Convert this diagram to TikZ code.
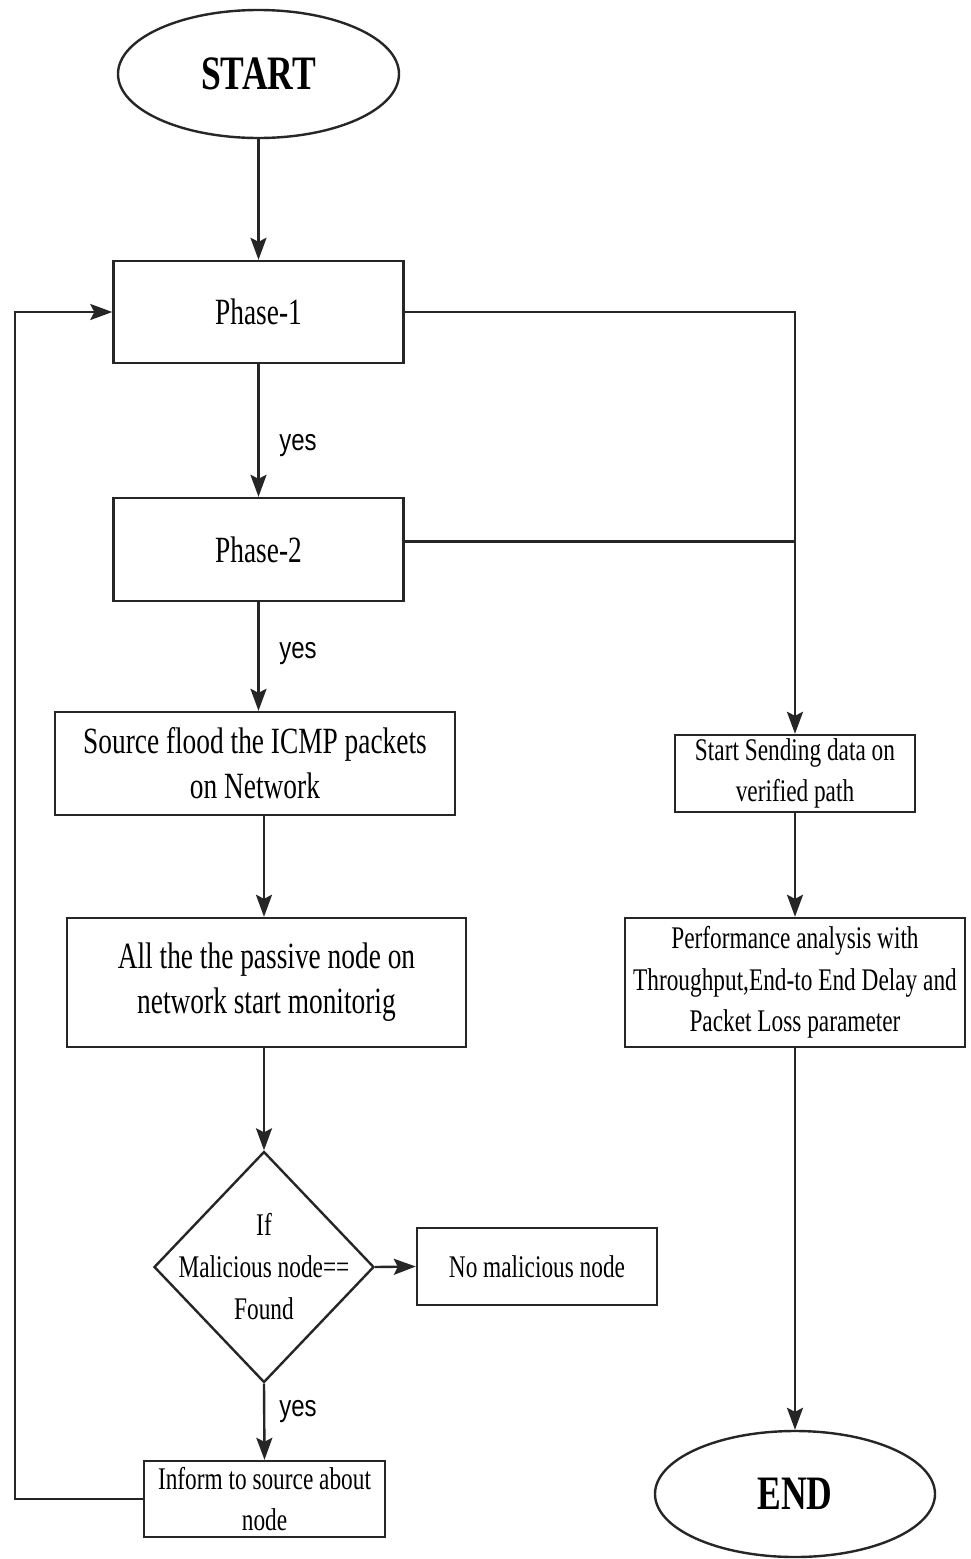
\documentclass[tikz,border=0pt]{standalone}
\usepackage{fontspec}
\setmainfont[FakeStretch=0.74]{Liberation Serif}
\newfontfamily\yesfont[FakeStretch=0.8]{Liberation Sans}
\usetikzlibrary{shapes.geometric,arrows.meta,calc}
\begin{document}
\begin{tikzpicture}[x=1pt,y=-1pt,
  box/.style={draw=black!85, line width=2.4pt, inner sep=0pt, align=center, font=\fontsize{37}{45}\selectfont},
  sbox/.style={draw=black!85, line width=2.4pt, inner sep=0pt, align=center, font=\fontsize{31.5}{41.5}\selectfont},
  term/.style={draw=black!85, ellipse, line width=2.4pt, inner sep=0pt, font=\bfseries\fontsize{48}{50}\selectfont},
  decbox/.style={draw=black!85, diamond, line width=2.4pt, inner sep=0pt},
  dtext/.style={align=center, inner sep=0pt, font=\fontsize{31.5}{42}\selectfont},
  yeslbl/.style={inner sep=0pt, font=\yesfont\fontsize{30}{32}\selectfont},
  arr/.style={draw=black!85, line width=2.4pt, -{Stealth[length=22pt,width=16pt,inset=4pt]}},
  ln/.style={draw=black!85, line width=2.4pt}]
\useasboundingbox (0,0) rectangle (970,1559);
\fill[white] (0,0) rectangle (970,1559);

\node[term, minimum width=281pt, minimum height=128pt] (start) at (258.5,74) {START};
\node[box, minimum width=290pt, minimum height=102pt] (p1) at (258.5,312) {Phase-1};
\node[box, minimum width=290pt, minimum height=103pt] (p2) at (258.5,549.5) {Phase-2};
\node[box, minimum width=400pt, minimum height=103pt] (src) at (255,763.5) {Source flood the ICMP packets\\on Network};
\node[box, minimum width=399pt, minimum height=129pt] (all) at (266.5,982.5) {All the the passive node on\\network start monitorig};
\node[decbox, minimum width=220pt, minimum height=231pt] (dec) at (264,1267) {};
\node[dtext] (dect) at (dec.center) {If\\Malicious node==\\Found};
\node[sbox, minimum width=240pt, minimum height=77pt] (nm) at (537,1266.5) {No malicious node};
\node[sbox, minimum width=241pt, minimum height=76pt] (inf) at (264.5,1499) {Inform to source about\\node};
\node[sbox, minimum width=240pt, minimum height=77pt] (ssd) at (795,773.5) {Start Sending data on\\verified path};
\node[sbox, minimum width=340pt, minimum height=129pt] (perf) at (795,982.5) {Performance analysis with\\Throughput,End-to End Delay and\\Packet Loss parameter};
\node[term, minimum width=280pt, minimum height=126pt] (end) at (795,1494) {END};

\node[yeslbl] (y1) at (298,446) {yes};
\node[yeslbl] (y2) at (298,654) {yes};
\node[yeslbl] (y3) at (298,1412) {yes};

\coordinate (lft) at (15,0);
\coordinate (p2j) at ($(p2.east)+(0,-8)$);

\draw[arr] (start.south) -- (p1.north);
\draw[arr] (p1.south) -- (p2.north);
\draw[arr] (p2.south) -- (p2.south |- src.north);
\draw[arr] (src.south -| dec.north) -- (all.north -| dec.north);
\draw[arr] (all.south -| dec.north) -- (dec.north);
\draw[arr] (dec.east) -- (nm.west);
\draw[arr] (dec.south) -- (inf.north);
\draw[arr] (inf.west) -- (inf.west -| lft) -- (p1.west -| lft) -- (p1.west);
\draw[arr] (p1.east) -- (p1.east -| ssd.north) -- (ssd.north);
\draw[ln] (p2j) -- (p2j -| ssd.north);
\draw[arr] (ssd.south) -- (perf.north);
\draw[arr] (perf.south) -- (end.north);
\end{tikzpicture}
\end{document}
